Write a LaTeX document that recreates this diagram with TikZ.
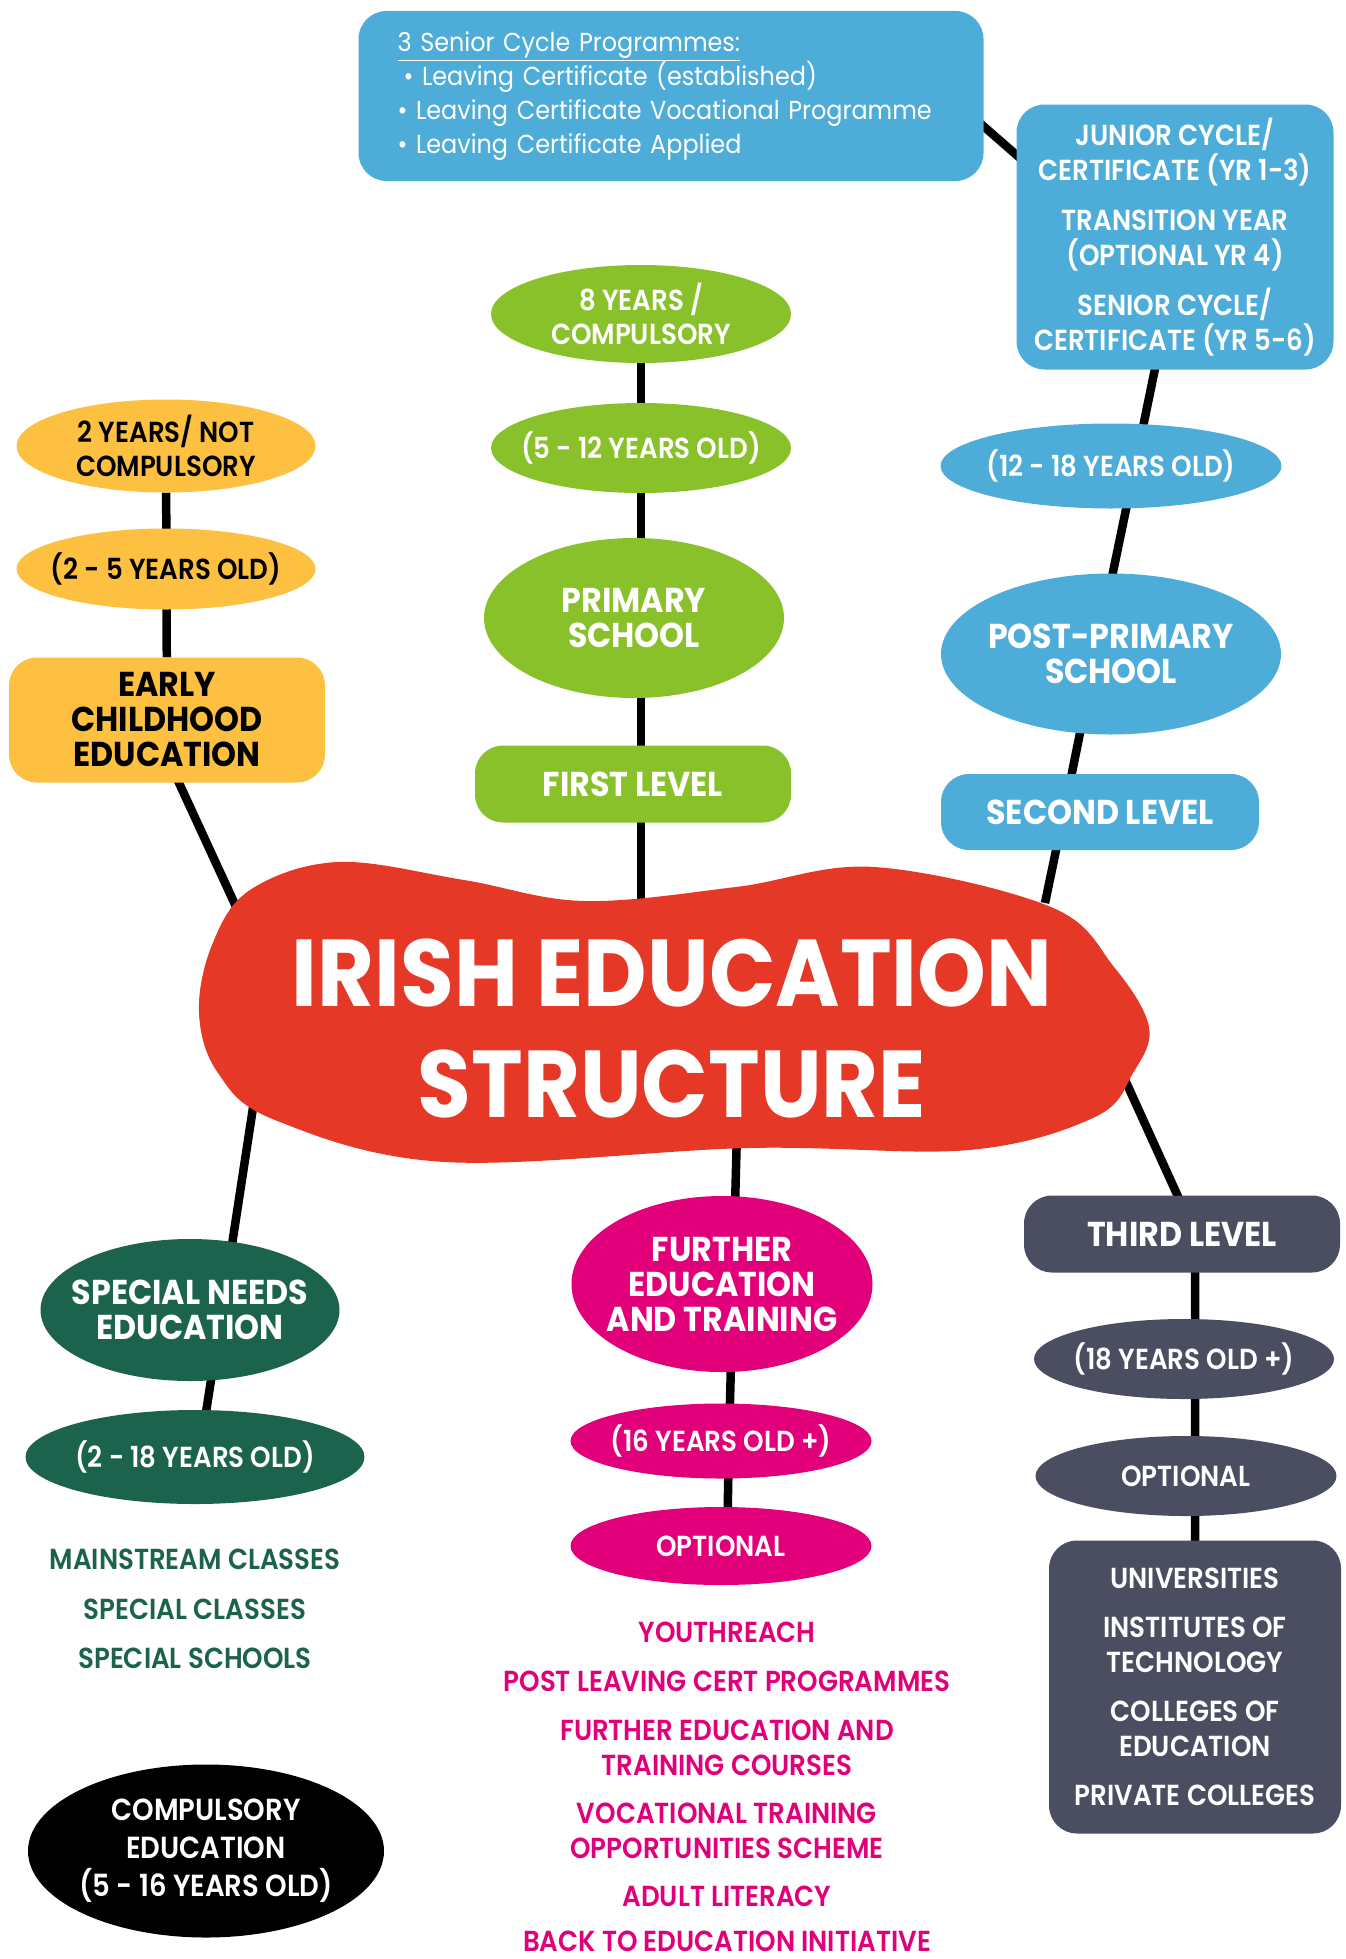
\documentclass[tikz,border=0pt]{standalone}
\usepackage{fontspec}
\setmainfont{Poppins}[FakeStretch=0.92]
\newfontfamily\medfont{Poppins SemiBold}[FakeStretch=0.9]
\usetikzlibrary{shapes.geometric,backgrounds}
\definecolor{skyblue}{RGB}{78,173,216}
\definecolor{leafgreen}{RGB}{136,193,42}
\definecolor{sunyellow}{RGB}{253,192,64}
\definecolor{mainred}{RGB}{229,56,39}
\definecolor{deepgreen}{RGB}{28,99,78}
\definecolor{hotpink}{RGB}{226,0,122}
\definecolor{slate}{RGB}{74,78,96}
\tikzset{
  card/.style={rectangle, rounded corners=28pt, inner sep=0pt, align=center, text=white},
  pebble/.style={ellipse, inner ysep=0pt, inner xsep=-30pt, align=center, text=white},
  labeltext/.style={font=\medfont\fontsize{29}{34.5}\selectfont},
  headtext/.style={font=\bfseries\fontsize{34.5}{35}\selectfont},
  listtext/.style={labeltext, inner sep=0pt, align=center, anchor=north},
  link/.style={line width=8.5pt, draw=black}
}

\begin{document}
\begin{tikzpicture}[x=1pt, y=-1pt]
  \useasboundingbox (0,0) rectangle (1346,1959);

  % second level branch
  \node[card, fill=skyblue, minimum width=625pt, minimum height=170pt,
        align=left, text width=547pt, inner xsep=39pt,
        font=\fontsize{26}{34}\selectfont] (prog) at (671,96)
    {\underline{3 Senior Cycle Programmes:}\\
     \hspace{6pt}• Leaving Certificate (established)\\
     • Leaving Certificate Vocational Programme\\
     • Leaving Certificate Applied};
  \node[card, fill=skyblue, minimum width=317pt, minimum height=265pt, labeltext] (junior) at (1175,237)
    {JUNIOR CYCLE/\\CERTIFICATE (YR 1-3)\\[16pt]TRANSITION YEAR\\(OPTIONAL YR 4)\\[16pt]SENIOR CYCLE/\\CERTIFICATE (YR 5-6)};
  \node[pebble, fill=skyblue, minimum width=341pt, minimum height=85pt, labeltext] (age12) at (1111,466) {(12 - 18 YEARS OLD)};
  \node[pebble, fill=skyblue, minimum width=340pt, minimum height=161pt, headtext] (post) at (1111,654) {POST-PRIMARY\\SCHOOL};
  \node[card, fill=skyblue, minimum width=318pt, minimum height=76pt, headtext] (second) at (1100,812) {SECOND LEVEL};

  % first level branch
  \node[pebble, fill=leafgreen, minimum width=300pt, minimum height=98pt, labeltext] (yr8) at (641,314) {8 YEARS /\\COMPULSORY};
  \node[pebble, fill=leafgreen, minimum width=300pt, minimum height=90pt, labeltext] (age5) at (641,448) {(5 - 12 YEARS OLD)};
  \node[pebble, fill=leafgreen, minimum width=300pt, minimum height=160pt, headtext] (primary) at (634,618) {PRIMARY\\SCHOOL};
  \node[card, fill=leafgreen, minimum width=316pt, minimum height=77pt, headtext] (first) at (633,784) {FIRST LEVEL};

  % early childhood branch
  \node[pebble, fill=sunyellow, text=black, minimum width=299pt, minimum height=93pt, labeltext] (notc) at (166,446) {2 YEARS/ NOT\\COMPULSORY};
  \node[pebble, fill=sunyellow, text=black, minimum width=299pt, minimum height=81pt, labeltext] (age2) at (166,569) {(2 - 5 YEARS OLD)};
  \node[card, fill=sunyellow, text=black, minimum width=316pt, minimum height=125pt, headtext] (early) at (167,720) {EARLY\\CHILDHOOD\\EDUCATION};

  % centre blob
  \fill[mainred] plot[smooth cycle, tension=0.6] coordinates {
    (338,862) (464,880) (584,901) (736,887) (874,867) (1051,907) (1114,967)
    (1149,1027) (1133,1073) (1095,1117) (969,1150) (748,1148) (445,1162)
    (275,1120) (218,1073) (199,1013) (212,945) (250,890)};
  \node[text=white, align=center, font=\bfseries\fontsize{95}{111}\selectfont] (irish) at (672,1028) {IRISH EDUCATION\\STRUCTURE};
  \coordinate (hubNW) at (250,937);
  \coordinate (hubN) at (641,930);
  \coordinate (hubNE) at (1045,903);
  \coordinate (hubSW) at (258,1075);
  \coordinate (hubS) at (737,1130);
  \coordinate (hubSE) at (1116,1060);

  % special needs branch
  \node[pebble, fill=deepgreen, minimum width=299pt, minimum height=142pt, headtext] (special) at (190,1310) {SPECIAL NEEDS\\EDUCATION};
  \node[pebble, fill=deepgreen, minimum width=339pt, minimum height=94pt, labeltext] (age218) at (195,1457) {(2 - 18 YEARS OLD)};
  \node[listtext, text=deepgreen] (senlist) at (195,1549) {MAINSTREAM CLASSES\\[15pt]SPECIAL CLASSES\\[15pt]SPECIAL SCHOOLS};
  \node[pebble, fill=black, minimum width=356pt, minimum height=173pt, font=\medfont\fontsize{30.5}{38}\selectfont] (compulsory) at (206,1851)
    {COMPULSORY\\EDUCATION\\(5 - 16 YEARS OLD)};

  % further education branch
  \node[pebble, fill=hotpink, minimum width=301pt, minimum height=176pt, headtext] (further) at (722,1284) {FURTHER\\EDUCATION\\AND TRAINING};
  \node[pebble, fill=hotpink, minimum width=301pt, minimum height=75pt, labeltext] (age16) at (721,1441) {(16 YEARS OLD +)};
  \node[pebble, fill=hotpink, minimum width=301pt, minimum height=78pt, labeltext] (optfe) at (721,1546) {OPTIONAL};
  \node[listtext, text=hotpink] (felist) at (727,1622)
    {YOUTHREACH\\[14pt]POST LEAVING CERT PROGRAMMES\\[15pt]FURTHER EDUCATION AND\\TRAINING COURSES\\[14pt]VOCATIONAL TRAINING\\OPPORTUNITIES SCHEME\\[14pt]ADULT LITERACY\\[10pt]BACK TO EDUCATION INITIATIVE};

  % third level branch
  \node[card, fill=slate, minimum width=316pt, minimum height=77pt, headtext] (third) at (1182,1234) {THIRD LEVEL};
  \node[pebble, fill=slate, minimum width=300pt, minimum height=80pt, labeltext] (age18) at (1184,1359) {(18 YEARS OLD +)};
  \node[pebble, fill=slate, minimum width=301pt, minimum height=80pt, labeltext] (opttl) at (1186,1476) {OPTIONAL};
  \node[card, fill=slate, minimum width=292pt, minimum height=293pt, labeltext] (univ) at (1195,1687)
    {UNIVERSITIES\\[15pt]INSTITUTES OF\\TECHNOLOGY\\[15pt]COLLEGES OF\\EDUCATION\\[15pt]PRIVATE COLLEGES};

  \begin{scope}[on background layer]
    \draw[link] ([xshift=-20pt, yshift=-13pt]prog.east) -- ([xshift=22pt, yshift=63pt]junior.west);
    \draw[link] ([xshift=7pt]junior.center) -- ([xshift=24pt]age12.center) -- ([xshift=-15pt]post.center)
      -- ([xshift=-36pt]second.center) -- (hubNE);
    \draw[link] (yr8) -- (hubN);
    \draw[link] (notc) -- (early);
    \draw[link] ([xshift=-17pt]early.center) -- (hubNW);
    \draw[link] (hubSW) -- ([xshift=32pt]special.center) -- ([xshift=4pt]age218.center);
    \draw[link] (hubS) -- ([xshift=11pt]further.center) -- ([xshift=8pt]age16.center) -- ([xshift=6pt]optfe.center);
    \draw[link] (hubSE) -- (univ.center |- third.center) -- (univ.center);
  \end{scope}
\end{tikzpicture}
\end{document}
